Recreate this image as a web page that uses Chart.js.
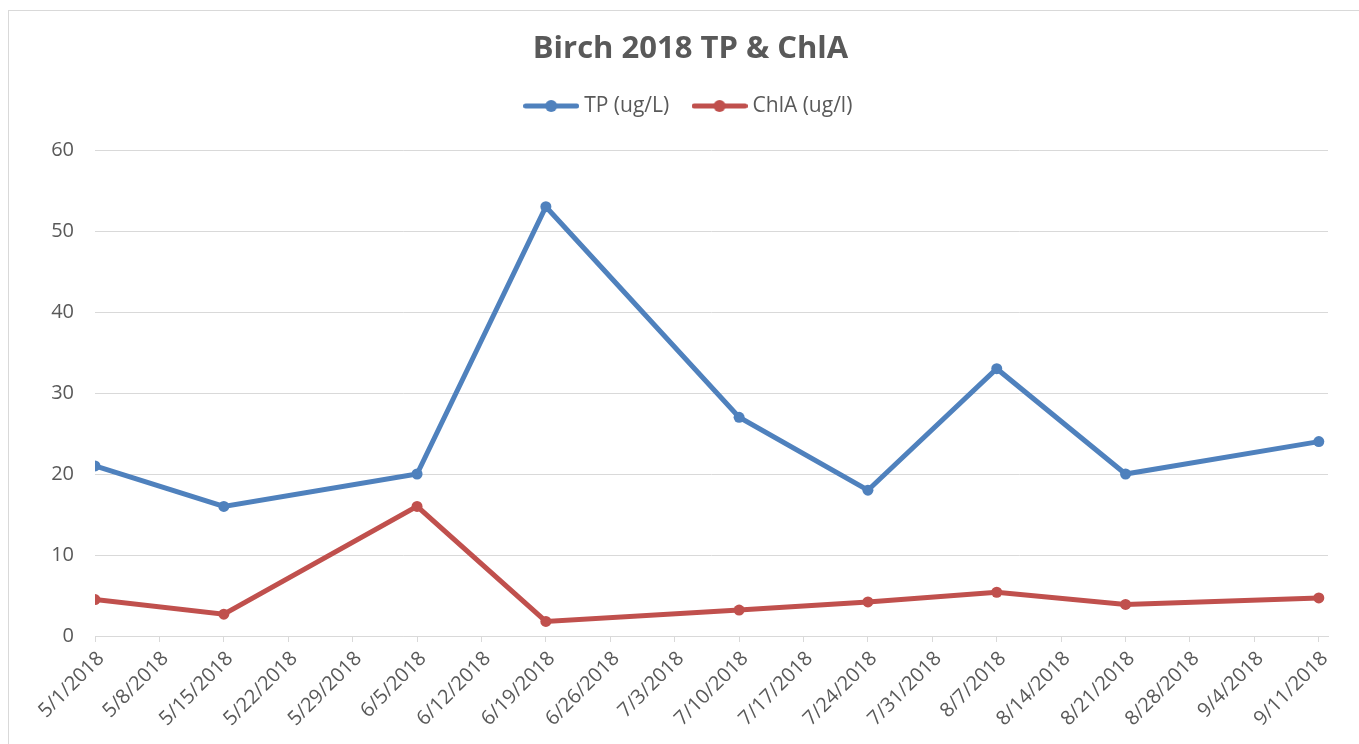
<!DOCTYPE html>
<html lang="en">
<head>
  <meta charset="UTF-8">
  <title>Birch 2018 TP &amp; ChlA</title>
  <script src="https://cdn.jsdelivr.net/npm/chart.js"></script>
  <style>
    html, body {
      margin: 0;
      padding: 0;
      background: #fff;
      overflow: hidden;
    }
    .frame {
      position: absolute;
      left: 8px;
      top: 10px;
      width: 1400px;
      height: 800px;
      border: 1px solid #d9d9d9;
    }
    .wrap {
      position: absolute;
      left: 0;
      top: 0;
      width: 1381px;
      height: 744px;
    }
  </style>
</head>
<body>
  <div class="frame"></div>
  <div class="wrap"><canvas id="chart"></canvas></div>

  <script>
    // weekly date ticks on the x axis
    const tickLabels = ['5/1/2018', '5/8/2018', '5/15/2018', '5/22/2018', '5/29/2018', '6/5/2018',
      '6/12/2018', '6/19/2018', '6/26/2018', '7/3/2018', '7/10/2018', '7/17/2018', '7/24/2018',
      '7/31/2018', '8/7/2018', '8/14/2018', '8/21/2018', '8/28/2018', '9/4/2018', '9/11/2018'];

    // sampling dates and values
    const sampleDates = ['5/1/2018', '5/15/2018', '6/5/2018', '6/19/2018', '7/10/2018',
      '7/24/2018', '8/7/2018', '8/21/2018', '9/11/2018'];
    const tpValues = [21, 16, 20, 53, 27, 18, 33, 20, 24];
    const chlaValues = [4.5, 2.7, 16, 1.8, 3.2, 4.2, 5.4, 3.9, 4.7];

    const seriesNames = ['TP (ug/L)', 'ChlA (ug/l)'];
    const seriesColors = ['#4F81BD', '#C0504D'];
    const textColor = '#595959';
    const gridColor = '#d9d9d9';

    function dayOf(s) {
      let p = s.split('/').map(Number);
      let t0 = Date.UTC(2018, 4, 1);
      return Math.round((Date.UTC(p[2], p[0] - 1, p[1]) - t0) / 86400000);
    }

    // line-with-dot marker for the legend
    function legendMark(color) {
      let c = document.createElement('canvas');
      c.width = 56;
      c.height = 14;
      let g = c.getContext('2d');
      g.strokeStyle = color;
      g.fillStyle = color;
      g.lineWidth = 5;
      g.lineCap = 'round';
      g.beginPath();
      g.moveTo(2.5, 7);
      g.lineTo(53.5, 7);
      g.stroke();
      g.beginPath();
      g.arc(28, 7, 6, 0, Math.PI * 2);
      g.fill();
      return c;
    }
    const marks = seriesColors.map(legendMark);

    function makeSet(i, values) {
      return {
        label: seriesNames[i],
        data: sampleDates.map((d, k) => ({ x: dayOf(d), y: values[k] })),
        borderColor: seriesColors[i],
        backgroundColor: seriesColors[i],
        borderWidth: 5,
        pointRadius: 5.5,
        pointBorderWidth: 0,
        tension: 0
      };
    }

    Chart.defaults.font.family = "'Open Sans', sans-serif";
    Chart.defaults.color = textColor;

    new Chart(document.getElementById('chart'), {
      type: 'line',
      data: {
        datasets: [makeSet(0, tpValues), makeSet(1, chlaValues)]
      },
      options: {
        responsive: true,
        maintainAspectRatio: false,
        animation: false,
        layout: { padding: 0 },
        plugins: {
          title: {
            display: true,
            text: 'Birch 2018 TP & ChlA',
            color: textColor,
            font: { size: 31, weight: 'bold', lineHeight: 1.2 },
            padding: { top: 30.4, bottom: 0 }
          },
          // empty spacer between legend and plot
          subtitle: {
            display: true,
            text: '',
            weight: 500,
            font: { size: 10, lineHeight: 0 },
            padding: { top: 23.5, bottom: 0 }
          },
          legend: {
            labels: {
              usePointStyle: true,
              pointStyleWidth: 45,
              padding: 27.9,
              color: textColor,
              font: { size: 21 },
              generateLabels(chart) {
                let items = Chart.defaults.plugins.legend.labels.generateLabels(chart);
                items.forEach((it, i) => { it.pointStyle = marks[i]; });
                return items;
              }
            }
          },
          tooltip: { enabled: false }
        },
        scales: {
          x: {
            type: 'linear',
            min: 0,
            max: 134,
            afterFit(s) { s.height = 108; s.paddingRight = 53; },
            grid: { drawOnChartArea: false, color: gridColor, tickLength: 6 },
            border: { color: gridColor },
            ticks: {
              stepSize: 7,
              includeBounds: false,
              maxTicksLimit: 30,
              autoSkip: false,
              minRotation: 45,
              maxRotation: 45,
              padding: 5,
              labelOffset: 6,
              color: textColor,
              font: { size: 20 },
              callback: v => tickLabels[v / 7]
            }
          },
          y: {
            min: 0,
            max: 60,
            afterFit(s) { s.width = 95; s.paddingTop = 150; },
            grid: { color: gridColor, drawTicks: false },
            border: { display: false },
            ticks: { stepSize: 10, padding: 21, color: textColor, font: { size: 20 } }
          }
        }
      }
    });
  </script>
</body>
</html>
